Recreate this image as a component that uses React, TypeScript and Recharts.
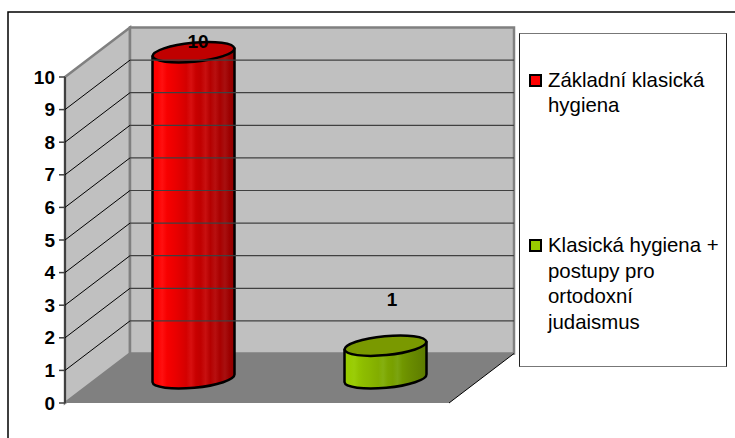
import { BarChart, Bar, XAxis, YAxis, Cell, Legend, LabelList } from "recharts";

const categories = ["Základní klasická hygiena", "Klasická hygiena + postupy pro ortodoxní judaismus"];
const legendLines = [
  ["Základní klasická", "hygiena"],
  ["Klasická hygiena +", "postupy pro", "ortodoxní", "judaismus"],
];
const values = [10, 1];
const yTicks = [0, 1, 2, 3, 4, 5, 6, 7, 8, 9, 10];

const data = categories.map((name, i) => ({ name, value: values[i] }));

const WIDTH = 735;
const HEIGHT = 438;
const FONT = '"Liberation Sans", Arial, sans-serif';

// plot box, front face of the fake 3d box
const LEFT = 65;
const RIGHT = 449;
const TOP = 77;
const BOTTOM = 403;
const DEPTH_X = 65;
const DEPTH_Y = -49.5;

// banded like the old office gradient, with a few lighter slivers
const BODY_STOPS = [
  ["#ff0000", "#ff0000", "#ff1010", "#f80000", "#f00000", "#e80000", "#de0000", "#d40000", "#d81010", "#c80000", "#c00000", "#c81010", "#b40000", "#b81010", "#a80000", "#a81010", "#9c0000", "#900000"],
  ["#99cc00", "#99cc00", "#9acd08", "#92c300", "#8dbc00", "#8ab800", "#86b200", "#82ad00", "#85b010", "#7ca500", "#78a000", "#7ba410", "#719700", "#6c9000", "#688a00", "#648500", "#608000", "#5c7b00"],
];
const TOP_FILL = ["#c00000", "#7a9900"];
const LEGEND_FILL = ["#ff0000", "#99cc00"];
const LABEL_LIFT = [34, 69];
const LABEL_SHIFT = [37, 39];

function Walls() {
  const backL = LEFT + DEPTH_X;
  const backR = RIGHT + DEPTH_X;
  const backT = TOP + DEPTH_Y;
  const backB = BOTTOM + DEPTH_Y;
  return (
    <g>
      <rect x={8} y={12} width={WIDTH} height={HEIGHT} fill="#fff" stroke="#000" strokeWidth={1.5} />
      <polygon points={`${LEFT},${TOP} ${backL},${backT} ${backL},${backB} ${LEFT},${BOTTOM}`} fill="#c0c0c0" stroke="#808080" strokeWidth={2.5} />
      <polygon points={`${backL},${backT} ${backR},${backT} ${backR},${backB} ${backL},${backB}`} fill="#c0c0c0" stroke="#808080" strokeWidth={2.5} />
      <polygon points={`${LEFT},${BOTTOM} ${backL},${backB} ${backR},${backB} ${RIGHT},${BOTTOM}`} fill="#808080" />
      <line x1={RIGHT} y1={BOTTOM} x2={backR} y2={backB} stroke="#000" strokeWidth={1} />
    </g>
  );
}

function Cylinder(props: any) {
  const { x, y, width, height, index } = props;
  const dx = DEPTH_X / 2;
  const dy = DEPTH_Y / 2;
  const cx = x + width / 2 + dx;
  const rx = width / 2;
  const ry = 9.5;
  const tilt = -5.5;
  const yTop = y + dy;
  const yBot = y + height + dy;
  const rise = rx * Math.sin((-tilt * Math.PI) / 180);
  const xl = cx - rx;
  const xr = cx + rx;
  const body =
    `M ${xl} ${yTop + rise} L ${xl} ${yBot + rise} ` +
    `A ${rx} ${ry} ${tilt} 0 0 ${xr} ${yBot - rise} L ${xr} ${yTop - rise} Z`;
  return (
    <g>
      <defs>
        <linearGradient id={`cyl-${index}`} x1="0" x2="1" y1="0" y2="0">
          {BODY_STOPS[index].map((c, i) => (
            <stop key={i} offset={i / (BODY_STOPS[index].length - 1)} stopColor={c} />
          ))}
        </linearGradient>
      </defs>
      <path d={body} fill={`url(#cyl-${index})`} stroke="#000" strokeWidth={2.5} strokeLinejoin="round" />
      <ellipse
        cx={cx}
        cy={yTop}
        rx={rx}
        ry={ry}
        transform={`rotate(${tilt} ${cx} ${yTop})`}
        fill={TOP_FILL[index]}
        stroke="#000"
        strokeWidth={2.5}
      />
    </g>
  );
}

function ValueLabel(props: any) {
  const { x, y, width, value, index } = props;
  return (
    <text
      x={x + width / 2 + LABEL_SHIFT[index]}
      y={y - LABEL_LIFT[index]}
      textAnchor="middle"
      dominantBaseline="middle"
      fontFamily={FONT}
      fontWeight="bold"
      fontSize={19}
      fill="#000"
    >
      {value}
    </text>
  );
}

function LegendBox() {
  return (
    <div
      style={{
        width: 208,
        height: 334,
        boxSizing: "border-box",
        background: "#fff",
        borderLeft: "1.5px solid #222",
        borderRight: "1.5px solid #222",
        borderTop: "1.5px solid #777",
        borderBottom: "1.5px solid #777",
        position: "relative",
        fontFamily: FONT,
        fontSize: 20.4,
        color: "#000",
      }}
    >
      {legendLines.map((lines, i) => (
        <div key={i} style={{ position: "absolute", left: 9, top: i === 0 ? 34 : 199, display: "flex" }}>
          <span
            style={{
              width: 9,
              height: 9,
              marginTop: 6,
              marginRight: 6,
              flex: "none",
              background: LEGEND_FILL[i],
              border: "2.5px solid #000",
              boxSizing: "content-box",
            }}
          />
          <div style={{ lineHeight: i === 0 ? "25px" : "25.7px", whiteSpace: "nowrap" }}>
            {lines.map((t) => (
              <div key={t}>{t}</div>
            ))}
          </div>
        </div>
      ))}
    </div>
  );
}

// the tick also draws its grid line: along the side wall, then across the back wall
function YTick(props: any) {
  const { y, payload } = props;
  const yb = y + DEPTH_Y;
  const inner = payload.value > yTicks[0] && payload.value < yTicks[yTicks.length - 1];
  return (
    <g>
      {inner && <line x1={LEFT} y1={y} x2={LEFT + DEPTH_X} y2={yb} stroke="#000" strokeWidth={1} />}
      {inner && <line x1={LEFT + DEPTH_X} y1={yb} x2={RIGHT + DEPTH_X} y2={yb} stroke="#404040" strokeWidth={1.2} />}
      <line x1={LEFT - 6} x2={LEFT} y1={y} y2={y} stroke="#404040" strokeWidth={1.5} />
      <text x={LEFT - 10} y={y + 1.5} textAnchor="end" dominantBaseline="middle" fontFamily={FONT} fontWeight="bold" fontSize={19} fill="#000">
        {payload.value}
      </text>
    </g>
  );
}

export default function App() {
  return (
    <div style={{ position: "absolute", left: 0, top: 0, width: WIDTH, height: HEIGHT, overflow: "hidden", background: "#fff" }}>
      <BarChart
        width={WIDTH}
        height={HEIGHT}
        data={data}
        margin={{ top: TOP, right: WIDTH - RIGHT, bottom: HEIGHT - BOTTOM, left: 0 }}
        barCategoryGap="0%"
      >
        <Walls />
        <XAxis dataKey="name" height={0} tick={false} tickLine={false} stroke="#404040" strokeWidth={2} />
        <YAxis
          width={LEFT}
          domain={[0, 10]}
          ticks={yTicks}
          interval={0}
          tickLine={false}
          tick={YTick as any}
          stroke="#404040"
          strokeWidth={2}
        />
        <Legend
          layout="horizontal"
          verticalAlign="middle"
          align="center"
          content={() => <LegendBox />}
          wrapperStyle={{ position: "absolute", left: 519, top: 33, width: 208, height: 334 }}
        />
        <Bar dataKey="value" barSize={82} shape={Cylinder as any} isAnimationActive={false}>
          {data.map((d) => (
            <Cell key={d.name} />
          ))}
          <LabelList dataKey="value" content={ValueLabel as any} />
        </Bar>
      </BarChart>
    </div>
  );
}
